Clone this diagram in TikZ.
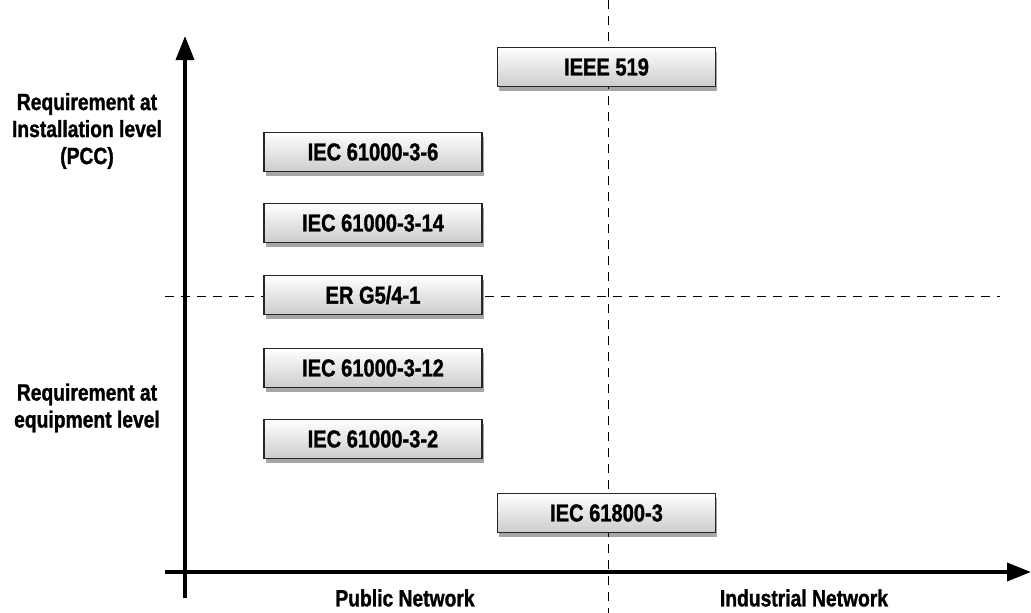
\documentclass[tikz,border=0pt]{standalone}
\usepackage{fontspec}
\setmainfont[FakeStretch=0.82, BoldFeatures={FakeBold=1.2}]{Liberation Sans}
\usepackage{tikz}
\usetikzlibrary{shadows,arrows.meta}
\tikzstyle{stdbox}=[rectangle, draw=black!85, line width=1.5pt, top color=white, bottom color=black!20, minimum width=218pt, minimum height=39pt, inner sep=0pt, font=\fontsize{24.5}{28}\selectfont\bfseries, drop shadow={shadow xshift=1.5pt, shadow yshift=-4pt, opacity=.35, fill=black}]
\tikzstyle{axis}=[line width=3.5pt, -{Triangle[width=18pt,length=24pt]}]
\tikzstyle{grid}=[line width=0.8pt, dash pattern=on 9pt off 7pt]
\tikzstyle{lbl}=[align=center, font=\fontsize{23.5}{27}\selectfont\bfseries]

\begin{document}
\begin{tikzpicture}[x=1pt, y=-1pt]
	\useasboundingbox (0,0) rectangle (1031,613);
	% dashed separators
	\coordinate (vtop) at (608,0);
	\coordinate (vbot) at (608,613);
	\coordinate (hl) at (165,296);
	\coordinate (hr) at (1000,296);
	\draw[grid] (vtop)--(vbot);
	\draw[grid] (hl)--(hr);
	% axes
	\coordinate (yb) at (185,598);
	\coordinate (yt) at (185,36);
	\coordinate (xl) at (165,572);
	\coordinate (xr) at (1031,572);
	\draw[axis] (yb)--(yt);
	\draw[axis] (xl)--(xr);
	% standards
	\foreach \n/\y/\t in {iec6/152/IEC 61000-3-6, iec14/223/IEC 61000-3-14, erg/295/{ER G5/4-1}, iec12/368/IEC 61000-3-12, iec2/439/IEC 61000-3-2}{
		\node[stdbox] (\n) at (373,\y) {\t};
	}
	\node[stdbox] (ieee) at (606.5,67) {IEEE 519};
	\node[stdbox] (iec618) at (606.5,513) {IEC 61800-3};
	% axis labels
	\node[lbl] (inst) at (87,131) {Requirement at\\Installation level\\(PCC)};
	\node[lbl] (equip) at (87,408) {Requirement at\\equipment level};
	\node[lbl] (pub) at (405,598) {Public Network};
	\node[lbl] (ind) at (804,598) {Industrial Network};
\end{tikzpicture}
\end{document}
